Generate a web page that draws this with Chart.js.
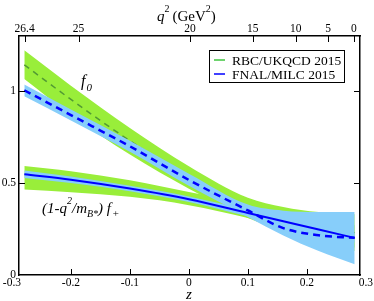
<!DOCTYPE html>
<html>
<head>
<meta charset="utf-8">
<script src="https://cdn.jsdelivr.net/npm/chart.js"></script>
<style>
  html, body { margin: 0; padding: 0; background: #fff; }
</style>
</head>
<body>
<canvas id="chart" width="374" height="301"></canvas>
<script>
// z grid and curves
const zGrid = [-0.279, -0.2, -0.1, 0, 0.1, 0.16, 0.22, 0.281];

const rbcF0 = [1.143, 0.955, 0.730, 0.530, 0.365, 0.300, 0.260, 0.230];
const rbcF0Hi = [1.222, 1.030, 0.800, 0.592, 0.420, 0.370, 0.342, 0.330];
const rbcF0Lo = [1.066, 0.870, 0.655, 0.469, 0.310, 0.240, 0.180, 0.130];
const rbcFpHi = [0.593, 0.565, 0.515, 0.452, 0.390, 0.350, 0.310, 0.270];
const rbcFpLo = [0.465, 0.450, 0.425, 0.380, 0.310, 0.255, 0.200, 0.150];

const fnalF0 = [1.005, 0.870, 0.700, 0.517, 0.351, 0.255, 0.216, 0.202];
const fnalF0Hi = [1.036, 0.900, 0.730, 0.551, 0.383, 0.350, 0.343, 0.343];
const fnalF0Lo = [0.972, 0.840, 0.670, 0.485, 0.315, 0.215, 0.130, 0.058];
const fnalFp = [0.548, 0.518, 0.470, 0.412, 0.337, 0.292, 0.247, 0.202];
const fnalFpHi = [0.569, 0.536, 0.485, 0.427, 0.355, 0.315, 0.272, 0.228];
const fnalFpLo = [0.527, 0.500, 0.455, 0.397, 0.319, 0.272, 0.222, 0.176];

const zTicks = [-0.3, -0.2, -0.1, 0, 0.1, 0.2, 0.3];
const zTickLabels = ["-0.3", "-0.2", "-0.1", "0", "0.1", "0.2", "0.3"];
const q2Ticks = [26.4, 25, 20, 15, 10, 5, 0];
const yTicks = [0, 0.5, 1];
const yTickLabels = ["0", "0.5", "1"];

const legendLabels = ["RBC/UKQCD 2015", "FNAL/MILC 2015"];
const legendColors = ["#3ec43e", "#0000ff"];

const GREEN_BAND = "#99ee3a";
const BLUE_BAND = "#87cefa";
const SERIF = "'Liberation Serif', 'Times New Roman', serif";

// q^2 -> z conversion for the top axis
const mB = 5.27929, mPi = 0.13957;
const tPlus = (mB + mPi) ** 2;
const tMinus = (mB - mPi) ** 2;
const t0 = tPlus - Math.sqrt(tPlus * (tPlus - tMinus));
function zOf(q2) {
  const a = Math.sqrt(tPlus - q2), b = Math.sqrt(tPlus - t0);
  return (a - b) / (a + b);
}

const pts = (ys) => zGrid.map((z, i) => ({ x: z, y: ys[i] }));

function band(hi, lo, color, order) {
  return [
    { data: pts(hi), fill: "+1", backgroundColor: color, borderColor: "rgba(0,0,0,0)",
      borderWidth: 1, order: order },
    { data: pts(lo), fill: false, borderColor: "rgba(0,0,0,0)", borderWidth: 1, order: order },
  ];
}

const datasets = [
  { label: "FNAL f+", data: pts(fnalFp), borderColor: "#0000ff", borderWidth: 2, fill: false, order: 0 },
  { label: "FNAL f0", data: pts(fnalF0), borderColor: "#0000ff", borderWidth: 2.5,
    borderDash: [7, 5], fill: false, order: 1 },
  ...band(fnalFpHi, fnalFpLo, BLUE_BAND, 3),
  ...band(fnalF0Hi, fnalF0Lo, BLUE_BAND, 3),
  { label: "RBC f0", data: pts(rbcF0), borderColor: "#529a34", borderWidth: 1.5,
    borderDash: [6, 5], fill: false, order: 5 },
  ...band(rbcF0Hi, rbcF0Lo, GREEN_BAND, 7),
  ...band(rbcFpHi, rbcFpLo, GREEN_BAND, 7),
];

const tickFont = { family: SERIF, size: 11.5 };
const noPad = (s) => { s.paddingLeft = 0; s.paddingRight = 0; s.paddingTop = 0; s.paddingBottom = 0; };

// draws text made of pieces (italic, sub/superscripts)
function richText(ctx, x, y, parts) {
  parts.forEach((p) => {
    ctx.font = (p.italic ? "italic " : "") + p.size + "px " + SERIF;
    ctx.fillText(p.t, x, y + (p.dy || 0));
    x += ctx.measureText(p.t).width + (p.gap || 0);
  });
}

const decorations = {
  id: "decorations",
  afterDatasetsDraw(chart) {
    const { ctx, chartArea: a, scales } = chart;
    ctx.save();
    ctx.strokeStyle = "#000";
    ctx.lineWidth = 1;
    const L = 6;
    scales.x.ticks.forEach((t) => {
      if (t.value < scales.x.min || t.value > scales.x.max) return;
      const px = Math.round(scales.x.getPixelForValue(t.value)) + 0.5;
      ctx.beginPath(); ctx.moveTo(px, a.bottom); ctx.lineTo(px, a.bottom - L); ctx.stroke();
    });
    scales.xTop.ticks.forEach((t) => {
      const px = Math.round(scales.xTop.getPixelForValue(t.value)) + 0.5;
      ctx.beginPath(); ctx.moveTo(px, a.top); ctx.lineTo(px, a.top + L); ctx.stroke();
    });
    [0.5, 1].forEach((v) => {
      const py = Math.round(scales.y.getPixelForValue(v)) + 0.5;
      ctx.beginPath(); ctx.moveTo(a.left, py); ctx.lineTo(a.left + L, py); ctx.stroke();
      ctx.beginPath(); ctx.moveTo(a.right, py); ctx.lineTo(a.right - L, py); ctx.stroke();
    });
    ctx.restore();
  },
  afterDraw(chart) {
    const { ctx } = chart;
    ctx.save();
    ctx.fillStyle = "#000";
    ctx.textBaseline = "alphabetic";
    ctx.textAlign = "left";

    // top axis title
    richText(ctx, 157, 21, [
      { t: "q", italic: true, size: 15 },
      { t: "2", size: 10, dy: -9, gap: 3 },
      { t: "(GeV", size: 15 },
      { t: "2", size: 10, dy: -9 },
      { t: ")", size: 15 },
    ]);
    // bottom axis title
    ctx.font = "italic 15px " + SERIF;
    ctx.fillText("z", 186, 299);

    // curve labels
    richText(ctx, 81, 86, [
      { t: "f", italic: true, size: 16, gap: 1 },
      { t: "0", italic: true, size: 11, dy: 5 },
    ]);
    richText(ctx, 42, 213, [
      { t: "(1-q", italic: true, size: 15 },
      { t: "2", italic: true, size: 10, dy: -9 },
      { t: "/m", italic: true, size: 15 },
      { t: "B*", italic: true, size: 10, dy: 4 },
      { t: ") ", italic: true, size: 15 },
      { t: "f", italic: true, size: 15, gap: 1 },
      { t: "+", italic: true, size: 11, dy: 4 },
    ]);

    // legend box
    ctx.fillStyle = "#fff";
    ctx.fillRect(209.5, 50.5, 135, 32);
    ctx.strokeStyle = "#000";
    ctx.lineWidth = 1;
    ctx.strokeRect(209.5, 50.5, 135, 32);
    legendLabels.forEach((lab, i) => {
      const y = 60 + i * 14;
      ctx.strokeStyle = legendColors[i];
      ctx.lineWidth = 1.5;
      ctx.beginPath(); ctx.moveTo(214, y); ctx.lineTo(225, y); ctx.stroke();
      ctx.fillStyle = "#000";
      ctx.font = "13.5px " + SERIF;
      ctx.fillText(lab, 232, y + 5);
    });
    ctx.restore();
  },
};

Chart.defaults.font.family = SERIF;
Chart.defaults.color = "#000";

new Chart(document.getElementById("chart"), {
  type: "line",
  data: { datasets: datasets },
  options: {
    responsive: false,
    devicePixelRatio: 1,
    animation: false,
    events: [],
    layout: { padding: 0, autoPadding: false },
    elements: {
      point: { radius: 0, hoverRadius: 0 },
      line: { cubicInterpolationMode: "monotone" },
    },
    plugins: { legend: { display: false }, tooltip: { enabled: false } },
    scales: {
      x: {
        type: "linear", position: "bottom", min: -0.288, max: 0.29,
        afterBuildTicks: (s) => { s.ticks = zTicks.map((v) => ({ value: v })); },
        afterFit: (s) => { s.height = 26; noPad(s); },
        grid: { display: false, drawTicks: false },
        border: { display: true, color: "#000", width: 1.5 },
        ticks: { autoSkip: false, maxRotation: 0, padding: 1, font: tickFont, color: "#000",
                 callback: (v, i) => zTickLabels[i] },
      },
      xTop: {
        type: "linear", position: "top", min: -0.288, max: 0.29,
        afterBuildTicks: (s) => { s.ticks = q2Ticks.map((q) => ({ value: zOf(q) })); },
        afterFit: (s) => { s.height = 36; noPad(s); },
        grid: { display: false, drawTicks: false },
        border: { display: true, color: "#000", width: 1.5 },
        ticks: { autoSkip: false, maxRotation: 0, padding: 0, font: tickFont, color: "#000",
                 callback: (v, i) => String(q2Ticks[i]) },
      },
      y: {
        type: "linear", position: "left", min: 0, max: 1.3,
        afterBuildTicks: (s) => { s.ticks = yTicks.map((v) => ({ value: v })); },
        afterFit: (s) => { s.width = 19; noPad(s); },
        grid: { display: false, drawTicks: false },
        border: { display: true, color: "#000", width: 1.5 },
        ticks: { padding: 3, font: tickFont, color: "#000", callback: (v, i) => yTickLabels[i] },
      },
      yRight: {
        type: "linear", position: "right", min: 0, max: 1.3,
        afterFit: (s) => { s.width = 14; noPad(s); },
        grid: { display: false, drawTicks: false },
        border: { display: true, color: "#000", width: 1.5 },
        ticks: { display: false },
      },
    },
  },
  plugins: [decorations],
});
</script>
</body>
</html>
